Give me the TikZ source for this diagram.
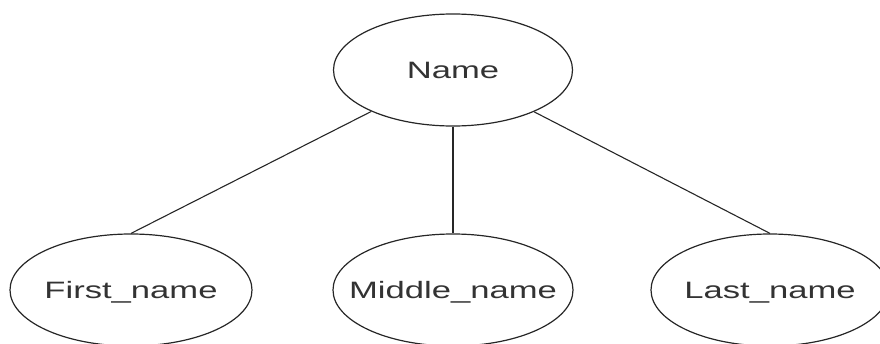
\documentclass[tikz,border=0pt]{standalone}
\usepackage{fontspec}
\setmainfont{Liberation Sans}
\usetikzlibrary{shapes.geometric}
\begin{document}
\begin{tikzpicture}[x=1pt,y=-1pt,
  attr/.style={ellipse, draw=black!85, line width=1.2pt, inner sep=0pt,
    minimum width=#1, minimum height=112pt,
    font=\fontsize{23.7}{28}\selectfont, text=black!80,
    text height=17pt, text depth=0pt},
  link/.style={draw=black!85, line width=1.1pt}]
\useasboundingbox (0,0) rectangle (880,343);
\clip (0,0) rectangle (880,343);
\node[attr=239pt] (name) at (453,70) {\makebox[0pt]{\scalebox{1.46}[1]{Name}}};
\node[attr=242pt] (first) at (131,290) {\makebox[0pt]{\scalebox{1.46}[1]{First\_name}}};
\node[attr=240pt] (middle) at (453,290) {\makebox[0pt]{\scalebox{1.46}[1]{Middle\_name}}};
\node[attr=238pt] (last) at (770,290) {\makebox[0pt]{\scalebox{1.46}[1]{Last\_name}}};
\draw[link] (name) -- (first.north);
\draw[link] (name) -- (middle);
\draw[link] (name) -- (last.north);
\end{tikzpicture}
\end{document}
